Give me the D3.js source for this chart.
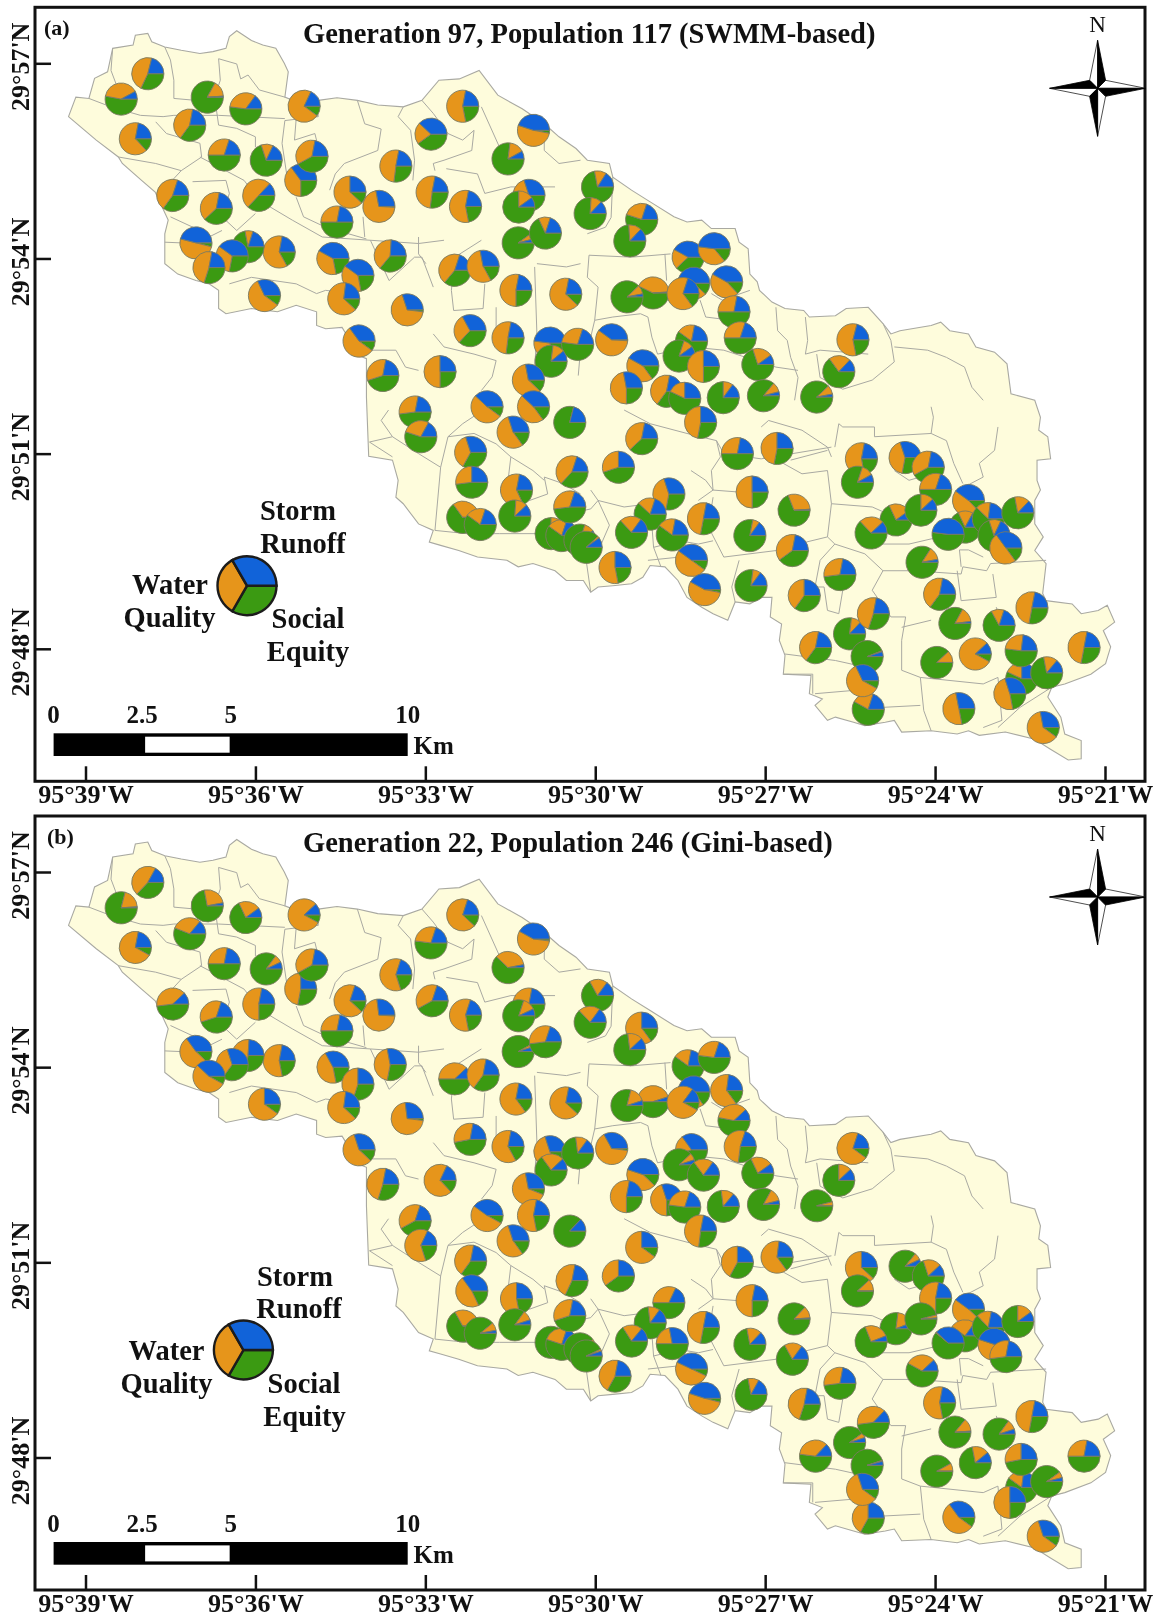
<!DOCTYPE html>
<html>
<head>
<meta charset="utf-8">
<script src="https://d3js.org/d3.v7.min.js"></script>
<style>
body { margin: 0; background: #fff; }
svg { display: block; filter: blur(0.45px); }
text { font-family: "Liberation Serif", serif; font-weight: bold; fill: #111; }
</style>
</head>
<body>
<svg id="drawing_region"></svg>
<script>
// tick labels are minutes past 95 deg W and 29 deg N
const lonTicks = [39, 36, 33, 30, 27, 24, 21];
const latTicks = [57, 54, 51, 48];
const scaleStops = [0, 2.5, 5, 10];
const legendShares = [1, 1, 1];
const sliceColors = ['#3b9a12', '#e6951b', '#1163d9']; // social equity, water quality, storm runoff

// watershed outline, [lon, lat] in minutes
const basinOutline = [
[39.30,56.18],[39.17,56.48],[38.94,56.46],[38.84,56.77],[38.61,56.87],[38.52,57.23],[38.16,57.28],[38.12,57.43],[37.90,57.46],[37.83,57.33],
[37.60,57.25],[37.31,57.20],[36.98,57.15],[36.75,57.18],[36.52,57.23],[36.46,57.41],[36.33,57.50],[36.07,57.35],[35.87,57.28],[35.64,57.23],
[35.49,57.00],[35.42,56.87],[35.48,56.48],[35.28,56.41],[34.89,56.43],[34.56,56.47],[34.20,56.43],[33.84,56.36],[33.39,56.33],[33.06,56.43],
[32.76,56.74],[32.40,56.76],[32.05,56.89],[31.72,56.51],[31.29,56.30],[30.90,56.07],[30.64,55.87],[30.34,55.69],[30.14,55.51],[29.75,55.46],
[29.69,55.25],[29.36,55.05],[29.03,54.87],[28.61,54.64],[28.38,54.56],[28.12,54.59],[27.95,54.46],[27.53,54.46],[27.46,54.25],[27.30,54.15],
[27.27,53.76],[27.14,53.64],[27.10,53.51],[26.88,53.33],[26.65,53.23],[26.32,53.20],[26.22,53.10],[25.76,53.12],[25.57,53.23],[25.18,53.25],
[24.92,53.00],[24.78,52.84],[24.62,52.89],[24.07,52.97],[23.90,53.02],[23.74,52.89],[23.41,52.84],[23.28,52.64],[22.95,52.56],[22.73,52.38],
[22.66,51.92],[22.24,51.82],[22.14,51.56],[22.17,51.36],[22.01,51.26],[21.96,50.92],[22.20,50.90],[22.20,50.59],[22.14,50.44],[22.24,50.28],
[22.24,49.92],[22.09,49.72],[22.24,49.51],[22.04,49.31],[22.10,48.85],[22.04,48.74],[21.58,48.69],[21.42,48.54],[21.12,48.59],[20.96,48.67],
[20.83,48.41],[21.03,48.28],[20.90,48.03],[20.99,47.77],[21.25,47.61],[21.71,47.46],[21.94,47.41],[22.01,47.26],[21.78,46.95],[21.71,46.69],
[21.42,46.59],[21.42,46.31],[21.65,46.29],[21.97,46.46],[22.24,46.61],[22.76,46.72],[23.22,46.67],[23.41,46.74],[23.61,46.69],[24.07,46.74],
[24.59,46.72],[24.72,46.90],[24.88,46.87],[25.24,46.82],[25.44,46.87],[25.76,46.95],[25.90,46.90],[26.12,47.13],[25.99,47.23],[26.22,47.31],
[26.19,47.59],[26.68,47.61],[26.65,47.90],[26.75,48.13],[26.71,48.38],[26.91,48.49],[26.88,48.79],[27.07,48.79],[27.27,48.69],[27.53,48.72],
[27.66,48.44],[27.92,48.54],[28.12,48.64],[28.38,48.79],[28.54,49.05],[28.77,49.26],[29.03,49.28],[29.16,49.10],[29.36,49.00],[29.69,48.97],
[29.95,48.95],[30.08,48.87],[30.21,49.05],[30.51,49.05],[30.71,49.20],[31.10,49.31],[31.36,49.26],[31.56,49.36],[32.08,49.41],[32.41,49.51],
[32.73,49.59],[32.93,49.64],[32.86,49.82],[33.12,49.92],[33.39,50.23],[33.52,50.33],[33.48,50.59],[33.58,50.90],[34.00,50.96],[34.04,51.87],
[34.04,52.23],[34.04,52.46],[34.24,52.53],[34.40,52.84],[34.47,52.94],[34.76,52.92],[34.92,52.97],[34.92,53.18],[35.28,53.28],[35.61,53.18],
[36.07,53.23],[36.52,53.15],[36.65,53.23],[36.65,53.51],[36.82,53.61],[37.05,53.66],[37.37,53.76],[37.60,53.92],[37.60,54.38],[37.54,54.59],
[37.77,55.02],[38.01,55.20],[38.35,55.46],[38.42,55.56],[38.81,55.82]
];

// sub-basin divides
const subBasinLines = [
[[38.52,57.23],[38.55,56.89],[38.42,56.59],[38.55,56.33]],
[[38.94,56.46],[38.55,56.33],[38.03,56.20],[37.63,56.18],[37.44,56.20],[36.65,56.20],[35.48,56.15]],
[[37.60,57.25],[37.50,57.05],[37.44,56.74],[37.44,56.46],[37.05,56.43]],
[[36.65,57.07],[36.33,56.99],[36.26,56.76],[36.13,56.82],[35.93,56.59],[35.48,56.48]],
[[36.65,57.07],[36.62,56.74],[36.72,56.48],[36.65,56.05],[36.33,56.00],[36.00,55.87],[36.00,55.71]],
[[37.76,56.10],[37.57,55.92],[36.98,55.77],[36.95,55.56],[37.31,55.35],[37.63,55.05]],
[[38.42,55.56],[37.76,55.46],[37.31,55.35]],
[[35.48,56.12],[35.53,55.77],[35.44,55.25]],
[[35.28,56.15],[35.31,55.82],[34.95,55.92],[34.89,55.71]],
[[35.48,56.12],[34.89,56.18],[34.92,56.38]],
[[34.20,56.43],[34.07,56.07],[33.78,55.99],[33.84,55.66],[34.43,55.46],[34.59,55.30],[34.69,55.05]],
[[33.39,56.33],[33.48,56.18],[33.26,55.97],[33.19,55.51],[33.22,55.20]],
[[32.60,55.92],[32.34,55.82],[32.14,55.97],[32.18,55.66],[32.67,55.51],[32.86,55.46],[32.83,55.35]],
[[33.06,56.43],[32.86,56.23],[32.60,55.92]],
[[32.01,56.33],[31.69,55.71],[31.43,55.30]],
[[30.90,56.07],[30.90,55.66],[30.64,55.46],[30.26,55.51]],
[[32.63,55.38],[32.08,55.30],[31.95,55.00],[31.49,55.10],[30.71,55.10]],
[[36.98,55.56],[36.20,55.20],[35.93,54.89],[35.35,54.59],[34.82,54.33],[33.97,54.28],[33.12,54.23],[32.67,54.28]],
[[37.11,55.18],[36.52,55.20],[36.46,55.00],[36.59,54.64],[36.33,54.43],[36.00,54.69]],
[[35.28,54.94],[35.15,54.64],[34.76,54.48],[34.04,54.30]],
[[34.10,54.64],[34.07,54.33]],
[[37.60,54.25],[37.05,54.23],[36.59,54.43]],
[[37.50,54.64],[36.98,54.43]],
[[36.46,53.61],[36.07,53.71],[35.28,53.61],[34.92,53.46],[34.76,53.51],[34.47,53.48]],
[[33.97,54.28],[33.64,53.66],[33.19,54.02],[33.06,54.02],[32.86,53.56]],
[[33.12,54.33],[33.12,54.07],[32.99,53.92]],
[[32.54,53.51],[32.50,53.20],[31.98,53.23],[31.95,53.61]],
[[32.54,53.51],[32.48,54.02],[32.01,54.28]],
[[31.07,53.87],[31.03,52.84],[31.07,52.33]],
[[31.75,53.25],[31.75,52.79],[31.36,52.64]],
[[34.04,52.59],[33.52,52.59],[33.35,52.33],[33.12,52.28]],
[[32.86,52.84],[32.67,52.64],[32.14,52.53],[31.75,52.43],[31.82,52.18],[32.01,51.97]],
[[31.03,53.92],[30.51,53.87],[30.26,53.92]],
[[30.11,54.05],[29.36,54.02],[28.67,54.07]],
[[30.11,54.05],[30.14,53.71],[29.95,53.56],[30.01,53.05],[30.08,52.79]],
[[29.07,53.10],[29.00,52.79],[28.90,52.53]],
[[28.77,54.07],[28.74,53.66]],
[[28.15,53.36],[28.05,53.10],[27.59,53.05],[27.27,52.84]],
[[27.95,53.46],[27.76,53.36],[27.27,53.51]],
[[26.81,53.25],[26.78,52.89],[26.61,52.74],[26.55,52.48],[26.42,52.17],[26.48,51.82]],
[[26.29,53.10],[26.25,52.74],[26.29,52.53],[26.03,52.59],[25.18,52.53]],
[[26.09,52.53],[26.03,52.17],[25.63,51.99],[25.11,52.13],[24.72,52.41],[24.78,52.74],[24.92,53.00]],
[[24.72,52.64],[24.13,52.59],[23.80,52.48],[23.48,52.33],[23.35,52.02],[23.15,51.82]],
[[28.31,52.64],[27.73,52.59],[26.81,52.33],[26.42,52.28]],
[[27.86,51.20],[27.79,50.95],[27.95,50.74],[27.92,50.44],[27.47,50.41]],
[[28.31,50.74],[28.05,50.59],[27.92,50.44],[28.18,50.28]],
[[27.07,51.41],[26.94,51.51],[26.35,51.36],[25.90,51.10],[25.83,50.95]],
[[26.55,50.90],[25.90,51.05]],
[[26.68,50.85],[26.35,50.69],[25.90,50.74],[25.83,50.23],[25.90,49.72],[25.77,49.61],[26.03,49.36]],
[[25.83,50.23],[25.11,50.18],[24.85,50.08]],
[[25.77,49.61],[25.24,49.46],[24.92,49.20],[25.11,48.90],[24.78,48.49],[24.52,48.49]],
[[25.24,49.61],[24.46,49.61],[23.67,49.77]],
[[24.92,49.20],[24.39,49.20],[23.54,49.15],[23.51,49.26],[23.09,49.20],[23.02,49.31],[22.04,49.36]],
[[23.61,49.20],[23.54,48.74],[22.92,48.79],[22.98,49.15]],
[[24.52,48.49],[24.59,48.13],[24.59,47.67],[24.26,47.56],[23.15,47.46],[22.89,47.56]],
[[24.26,47.56],[24.20,47.05],[24.07,46.74]],
[[24.92,47.10],[24.26,47.13]],
[[26.12,47.31],[25.44,47.36],[24.92,47.10]],
[[26.16,47.61],[26.16,47.31]],
[[26.65,47.92],[25.76,47.82],[25.24,47.72]],
[[25.96,48.95],[25.90,48.59],[25.70,48.54],[25.63,48.90]],
[[22.89,47.56],[22.82,46.90],[23.15,46.79]],
[[21.94,47.41],[22.50,47.10],[22.89,46.79]],
[[24.07,51.31],[23.80,51.20],[23.67,50.85],[23.51,50.54]],
[[22.89,51.41],[22.95,51.05],[23.22,50.85],[23.15,50.64],[23.48,50.49]],
[[25.63,51.41],[25.07,51.41],[25.07,51.26],[24.07,51.31],[24.03,51.56],[24.07,51.72]],
[[25.77,51.10],[25.70,51.46],[25.63,51.41]],
[[24.72,50.74],[24.46,50.59],[24.07,50.69],[23.80,50.44]],
[[29.49,51.67],[29.03,51.46],[28.38,51.31],[27.86,51.20],[27.73,51.00],[27.07,50.92],[25.83,51.10]],
[[29.95,50.28],[29.49,50.18],[29.03,50.23],[28.97,49.56],[28.84,49.26]],
[[30.21,49.66],[30.08,48.87]],
[[29.07,49.36],[28.51,49.41]],
[[27.46,49.36],[27.59,48.95],[27.53,48.72]],
[[27.92,50.33],[28.00,49.87],[27.73,49.41],[26.81,49.51],[26.42,49.61],[25.90,49.72]],
[[33.98,51.18],[33.58,51.26],[33.78,51.51],[33.65,51.67]],
[[33.99,51.18],[33.58,50.95]],
[[32.73,50.79],[32.60,51.26],[32.14,51.31],[31.75,51.15],[31.49,50.95],[31.56,50.44]],
[[32.73,50.79],[32.83,49.82],[32.27,49.77],[31.69,49.77],[31.03,49.77]],
[[30.84,50.38],[30.90,50.64],[30.57,50.54],[30.26,50.38]],
[[31.49,50.95],[31.10,50.74],[30.90,50.59]],
[[33.58,51.26],[33.12,51.00],[32.73,50.79]],
[[32.08,51.61],[32.34,51.46],[32.60,51.26]],
[[31.56,50.44],[31.16,50.28],[30.84,50.38]],
[[23.54,49.26],[23.57,49.52],[23.41,49.52],[23.15,49.41]],
[[24.59,48.33],[24.07,48.44]],
[[22.92,48.64],[22.76,48.23],[22.63,48.08]],
[[26.68,47.61],[26.16,47.61]],
[[26.03,49.36],[26.12,48.95],[25.96,48.95]],
[[28.97,49.56],[28.51,49.66],[28.18,49.61],[27.92,49.66]],
[[30.08,50.44],[29.95,50.28],[29.75,49.90],[29.95,49.50]],
[[30.34,50.10],[30.08,50.15],[29.95,50.28]],
[[29.69,53.10],[29.20,53.15],[29.07,53.10]],
[[30.01,53.05],[29.69,53.10]],
[[28.90,52.53],[28.31,52.64]],
[[30.08,52.79],[30.26,52.60],[30.30,52.20]],
[[29.69,55.25],[29.72,54.63],[29.82,54.48],[30.14,54.38]]
];

// pie centres in minutes, listed back to front
const pieLon = [
37.90,38.37,36.85,36.17,35.14,38.12,37.16,36.55,35.81,35.20,35.00,37.46,36.69,35.94,34.33,33.82,34.56,33.52,32.88,32.29,
32.90,32.34,31.09,31.54,31.17,31.35,31.36,30.88,32.48,31.98,31.40,30.52,32.21,31.54,30.80,30.31,30.78,29.71,28.98,29.44,
28.36,27.90,28.26,28.45,27.68,27.55,27.44,27.13,27.03,26.09,25.70,25.45,32.74,31.18,29.16,29.45,31.91,31.09,31.45,30.45,
28.30,28.52,28.09,28.74,28.42,27.74,28.14,29.18,29.59,32.20,32.18,30.41,27.49,26.79,31.39,28.70,27.23,33.18,33.08,32.34,
32.03,31.42,30.78,30.59,30.27,30.16,30.45,29.03,29.36,28.64,28.09,27.27,26.49,26.52,29.65,28.30,28.07,27.25,26.31,25.68,
26.11,25.51,25.09,25.20,25.18,25.28,24.23,23.92,23.65,22.87,22.29,21.37,23.97,23.29,22.47,22.48,22.03,22.68,23.58,22.09,
25.30,25.37,24.53,24.12,23.99,24.69,25.13,24.25,23.41,23.47,23.06,22.96,22.75,23.77,22.54,29.96,30.09,29.18,29.39,33.32,
33.62,34.63,34.19,34.44,35.58,36.13,36.41,37.05,36.82,35.84,34.17,33.75
];
const pieLat = [
56.84,56.45,56.48,56.30,56.34,55.84,56.05,55.59,55.51,55.20,55.57,54.97,54.77,54.97,55.02,54.80,54.56,55.42,55.02,54.80,
55.91,56.34,55.97,55.53,54.97,54.79,54.24,54.39,53.82,53.88,53.51,53.45,52.89,52.78,52.70,52.68,52.42,52.75,53.47,53.41,
54.02,54.15,53.62,53.46,53.64,53.18,52.78,52.37,51.89,51.87,52.26,52.75,52.26,52.13,52.35,52.01,51.72,51.72,51.33,51.48,
52.73,52.50,52.34,51.96,51.85,51.86,51.48,51.23,50.79,51.02,50.56,50.72,51.00,51.08,50.44,50.38,50.41,51.64,51.26,50.02,
49.91,50.04,49.77,49.74,49.67,49.56,50.18,50.07,49.79,49.75,50.00,49.74,50.13,49.51,49.25,49.36,48.91,48.97,48.82,49.14,
48.02,48.23,48.54,47.88,47.07,47.51,49.33,48.84,48.39,48.36,48.63,48.02,47.79,47.92,47.54,47.97,47.63,47.31,47.08,46.79,
50.92,50.56,50.94,50.79,50.45,49.98,49.78,50.13,50.28,49.87,50.00,49.74,49.55,49.76,50.09,55.10,54.69,54.60,54.27,53.21,
54.04,54.00,53.74,53.38,54.10,54.18,54.04,54.24,53.86,53.43,52.73,52.20
];

// shares in percent: [social equity, water quality, storm runoff]
const sharesA = [
[32,47,21],[53,39,8],[83,16,1],[52,33,15],[10,72,18],[13,65,22],[35,43,22],[50,30,20],[70,12,18],[25,40,35],[42,36,22],[35,45,20],[38,40,22],[37,50,13],[12,63,25],[1,71,28],[50,28,22],[27,51,22],[27,51,22],[22,56,22],
[40,22,38],[22,56,22],[3,52,45],[77,15,8],[20,50,30],[75,15,10],[90,6,4],[68,12,20],[36,44,20],[17,55,28],[25,53,22],[12,66,22],[37,30,33],[27,51,22],[22,30,48],[52,28,20],[77,12,11],[1,59,40],[57,42,1],[88,9,3],
[38,20,42],[14,38,48],[12,43,45],[15,65,20],[13,45,42],[50,28,22],[50,30,20],[70,20,10],[86,10,4],[88,9,3],[65,22,13],[22,57,21],[25,50,25],[12,60,28],[15,43,42],[25,47,28],[10,52,38],[15,47,38],[15,55,30],[79,0,21],
[60,18,22],[80,10,10],[25,50,25],[35,43,22],[57,18,25],[75,10,15],[28,47,25],[38,40,22],[45,30,25],[33,37,30],[48,27,25],[37,43,20],[50,28,22],[28,47,25],[18,60,22],[28,42,30],[25,50,25],[48,30,22],[55,28,17],[65,35,0],
[60,20,20],[76,12,12],[75,15,10],[60,20,20],[80,10,10],[88,2,10],[48,32,20],[62,18,20],[63,22,15],[60,18,22],[28,50,22],[78,7,15],[69,30,1],[40,38,22],[22,53,25],[10,50,40],[3,55,42],[77,8,15],[35,40,25],[48,30,22],
[35,43,22],[77,10,13],[30,48,22],[94,1,5],[58,22,20],[8,60,32],[84,13,3],[35,43,22],[83,15,2],[67,13,20],[28,50,22],[28,50,22],[88,12,0],[8,80,12],[57,18,25],[52,25,23],[72,14,14],[22,48,30],[22,50,28],[10,62,28],
[22,56,22],[80,12,8],[28,42,30],[42,36,22],[50,30,20],[68,22,10],[63,25,12],[75,13,12],[13,47,40],[68,15,17],[62,15,23],[70,12,18],[15,50,35],[52,0,48],[72,15,13],[72,12,16],[76,11,13],[55,25,20],[74,13,13],[2,68,30],
[36,40,24],[22,36,42],[22,38,40],[12,65,23],[17,61,22],[72,8,20],[28,32,40],[4,50,46],[30,48,22],[10,58,32],[10,55,35],[45,33,22]
];
const sharesB = [
[37,46,17],[79,20,1],[72,25,3],[68,22,10],[8,80,12],[8,70,22],[56,30,14],[50,28,22],[85,8,7],[28,47,25],[42,36,22],[48,40,12],[45,35,20],[25,53,22],[12,68,20],[1,72,27],[50,28,22],[20,60,20],[42,38,20],[22,58,20],
[52,28,20],[12,68,20],[2,56,42],[62,35,3],[20,58,22],[80,13,7],[92,3,5],[48,32,20],[50,38,12],[35,43,22],[15,63,22],[12,66,22],[47,31,22],[17,61,22],[20,50,30],[73,12,15],[65,23,12],[2,65,33],[50,45,5],[79,16,5],
[60,18,22],[52,28,20],[15,40,45],[8,77,15],[15,62,23],[53,35,12],[27,53,20],[68,22,10],[83,13,4],[96,4,0],[75,13,12],[10,70,20],[13,69,18],[6,66,28],[12,43,45],[25,53,22],[8,52,40],[22,56,22],[15,55,30],[87,0,13],
[45,20,35],[88,7,5],[65,20,15],[25,45,30],[52,28,20],[73,13,14],[27,51,22],[10,65,25],[40,35,25],[35,43,22],[18,47,35],[32,46,22],[33,42,25],[15,62,23],[22,53,25],[50,32,18],[25,53,22],[42,38,20],[20,62,18],[67,33,0],
[89,8,3],[85,10,5],[85,10,5],[55,25,20],[90,5,5],[93,2,5],[45,33,22],[73,12,15],[66,20,14],[50,22,28],[28,50,22],[72,15,13],[87,12,1],[67,18,15],[33,45,22],[7,50,43],[4,51,45],[72,11,17],[30,48,22],[48,30,22],
[52,35,13],[90,5,5],[48,39,13],[95,1,4],[33,42,25],[10,60,30],[58,30,12],[22,56,22],[86,13,1],[85,10,5],[28,50,22],[50,28,22],[92,8,0],[72,17,11],[60,17,23],[47,28,25],[90,6,4],[25,50,25],[10,55,35],[10,60,30],
[12,63,25],[88,12,0],[86,7,7],[70,18,12],[25,53,22],[77,17,6],[69,25,6],[96,3,1],[12,48,40],[60,25,15],[63,15,22],[10,45,45],[48,30,22],[61,1,38],[75,15,10],[67,18,15],[63,22,15],[15,60,25],[73,15,12],[2,71,27],
[28,44,28],[22,45,33],[30,45,25],[12,65,23],[22,56,22],[28,48,24],[35,35,30],[12,53,35],[8,54,38],[10,65,25],[12,58,30],[30,48,22]
];

class PieMap {

    constructor( config, shares ) {
        this.config = config;
        this.shares = shares;
        this.init();
    }

    init() {
        let self = this;
        const c = self.config;

        self.svg = d3.select('#drawing_region')
            .attr('width', 1156)
            .attr('height', 1617);

        self.chart = self.svg.append('g');

        self.xscale = d3.scaleLinear()
            .domain( [39, 21] )
            .range( [85.5, 1105] );

        self.yscale = d3.scaleLinear()
            .domain( [57, 48] )
            .range( [c.top + 56, c.top + 641.5] );

        self.kmscale = d3.scaleLinear()
            .domain( [0, 10] )
            .range( [53.6, 407.7] );

        self.pie = d3.pie()
            .sort(null)
            .startAngle( Math.PI / 2 )
            .endAngle( Math.PI * 2.5 );

        self.line = d3.line()
            .x( d => self.xscale( d[0] ) )
            .y( d => self.yscale( d[1] ) );
    }

    render() {
        this.renderBasin();
        this.renderPies();
        this.renderFrame();
        this.renderLegend();
        this.renderScaleBar();
        this.renderCompass();
    }

    renderBasin() {
        let self = this;

        self.chart.append('path')
            .attr('d', self.line( basinOutline ) + 'Z')
            .attr('fill', '#fefcdc')
            .attr('stroke', '#a9a9a2')
            .attr('stroke-width', 1.1);

        self.chart.selectAll('.divide')
            .data( subBasinLines )
            .join('path')
            .attr('class', 'divide')
            .attr('d', self.line)
            .attr('fill', 'none')
            .attr('stroke', '#a9a9a2')
            .attr('stroke-width', 1);
    }

    renderPies() {
        let self = this;
        const arc = d3.arc().innerRadius(0).outerRadius(16.1);

        const pies = self.chart.selectAll('.site')
            .data( self.shares )
            .join('g')
            .attr('class', 'site')
            .attr('transform', (d,i) => `translate(${self.xscale( pieLon[i] )}, ${self.yscale( pieLat[i] )})`);

        pies.selectAll('path')
            .data( d => self.pie(d) )
            .join('path')
            .attr('d', arc)
            .attr('fill', (d,i) => sliceColors[i])
            .attr('stroke', '#7b7b62')
            .attr('stroke-width', 0.9);
    }

    renderFrame() {
        let self = this;
        const c = self.config;

        self.chart.append('rect')
            .attr('x', 35)
            .attr('y', c.top)
            .attr('width', 1110)
            .attr('height', 774)
            .attr('fill', 'none')
            .attr('stroke', '#111')
            .attr('stroke-width', 3);

        const xaxis = d3.axisBottom( self.xscale )
            .tickValues( lonTicks )
            .tickSizeInner(-15)
            .tickSizeOuter(0)
            .tickFormat( d => `95°${d}'W` );

        const xaxis_group = self.chart.append('g')
            .attr('transform', `translate(0, ${c.top + 774})`)
            .call( xaxis );
        xaxis_group.select('.domain').remove();
        xaxis_group.selectAll('line').attr('stroke', '#111').attr('stroke-width', 2.5);
        xaxis_group.selectAll('text')
            .attr('y', 22)
            .attr('dy', 0)
            .attr('font-size', 26);

        const yaxis = d3.axisLeft( self.yscale )
            .tickValues( latTicks )
            .tickSizeInner(-16)
            .tickSizeOuter(0)
            .tickFormat( d => `29°${d}'N` );

        const yaxis_group = self.chart.append('g')
            .attr('transform', 'translate(35, 0)')
            .call( yaxis );
        yaxis_group.select('.domain').remove();
        yaxis_group.selectAll('line').attr('stroke', '#111').attr('stroke-width', 2.5);
        yaxis_group.selectAll('text')
            .attr('x', 0)
            .attr('y', 0)
            .attr('dy', 0)
            .attr('transform', 'translate(-6, 3) rotate(-90)')
            .attr('text-anchor', 'middle')
            .attr('font-size', 26);

        self.chart.append('text')
            .attr('x', c.tagX)
            .attr('y', c.top + 28)
            .attr('font-size', 22)
            .text( c.tag );

        self.chart.append('text')
            .attr('x', 303)
            .attr('y', c.top + 36)
            .attr('font-size', 28.5)
            .text( c.title );
    }

    renderLegend() {
        let self = this;
        const c = self.config;
        const arc = d3.arc().innerRadius(0).outerRadius(29.5);

        const key = self.chart.append('g')
            .attr('transform', `translate(${c.keyX}, ${c.keyY})`);

        key.selectAll('path')
            .data( self.pie( legendShares ) )
            .join('path')
            .attr('d', arc)
            .attr('fill', (d,i) => sliceColors[i])
            .attr('stroke', '#1c1c1c')
            .attr('stroke-width', 2.4);

        self.chart.selectAll('.key-label-' + c.tag[1])
            .data( c.keyLabels )
            .join('text')
            .attr('class', 'key-label-' + c.tag[1])
            .attr('x', d => d.x)
            .attr('y', d => d.y)
            .attr('text-anchor', 'middle')
            .attr('font-size', 28.5)
            .text( d => d.text );
    }

    renderScaleBar() {
        let self = this;
        const c = self.config;
        const bar = c.top + 726;

        self.chart.append('rect')
            .attr('x', self.kmscale( scaleStops[0] ))
            .attr('y', bar)
            .attr('width', self.kmscale( scaleStops[3] ) - self.kmscale( scaleStops[0] ))
            .attr('height', 22.7)
            .attr('fill', '#000');

        // middle segment is white with the black bar showing round it
        self.chart.append('rect')
            .attr('x', self.kmscale( scaleStops[1] ) + 3)
            .attr('y', bar + 3.4)
            .attr('width', self.kmscale( scaleStops[2] ) - self.kmscale( scaleStops[1] ) - 4)
            .attr('height', 16)
            .attr('fill', '#fff');

        self.chart.selectAll('.km-label-' + c.tag[1])
            .data( scaleStops )
            .join('text')
            .attr('class', 'km-label-' + c.tag[1])
            .attr('x', d => self.kmscale(d))
            .attr('y', bar - 10)
            .attr('text-anchor', 'middle')
            .attr('font-size', 25)
            .text( d => d );

        self.chart.append('text')
            .attr('x', 413.5)
            .attr('y', bar + 21)
            .attr('font-size', 25)
            .text('Km');
    }

    renderCompass() {
        let self = this;
        const c = self.config;
        const tip = 48, waist = 8;

        const rose = self.chart.append('g')
            .attr('transform', `translate(1097.6, ${c.top + 81})`);

        // each arm is a black half and a white half
        const blackHalves = [
            [[0,0],[0,-tip],[waist,-waist]],
            [[0,0],[-tip,0],[-waist,-waist]],
            [[0,0],[0,tip],[-waist,waist]],
            [[0,0],[tip,0],[waist,waist]]
        ];
        const whiteHalves = [
            [[0,0],[0,-tip],[-waist,-waist]],
            [[0,0],[-tip,0],[-waist,waist]],
            [[0,0],[0,tip],[waist,waist]],
            [[0,0],[tip,0],[waist,-waist]]
        ];

        rose.selectAll('.white')
            .data( whiteHalves )
            .join('polygon')
            .attr('class', 'white')
            .attr('points', d => d.join(' '))
            .attr('fill', '#fff')
            .attr('stroke', '#222')
            .attr('stroke-width', 0.8);

        rose.selectAll('.black')
            .data( blackHalves )
            .join('polygon')
            .attr('class', 'black')
            .attr('points', d => d.join(' '))
            .attr('fill', '#000')
            .attr('stroke', '#000')
            .attr('stroke-width', 0.8);

        self.chart.append('text')
            .attr('x', 1097.6)
            .attr('y', c.top + 25)
            .attr('text-anchor', 'middle')
            .attr('font-size', 23)
            .style('font-weight', 'normal')
            .text('N');
    }
}

const panelA = new PieMap({
    top: 7.3,
    tag: '(a)',
    tagX: 44,
    title: 'Generation 97, Population 117 (SWMM-based)',
    keyX: 247,
    keyY: 585.7,
    keyLabels: [
        {text: 'Storm', x: 298, y: 520},
        {text: 'Runoff', x: 303, y: 552.7},
        {text: 'Water', x: 170, y: 594.3},
        {text: 'Quality', x: 169.5, y: 626.7},
        {text: 'Social', x: 308, y: 628},
        {text: 'Equity', x: 308, y: 660.7}
    ]
}, sharesA);
panelA.render();

const panelB = new PieMap({
    top: 816,
    tag: '(b)',
    tagX: 47,
    title: 'Generation 22, Population 246 (Gini-based)',
    keyX: 243.4,
    keyY: 1350,
    keyLabels: [
        {text: 'Storm', x: 295, y: 1286},
        {text: 'Runoff', x: 299, y: 1318.3},
        {text: 'Water', x: 166.5, y: 1360},
        {text: 'Quality', x: 166.5, y: 1392.7},
        {text: 'Social', x: 304, y: 1393.3},
        {text: 'Equity', x: 304.5, y: 1426}
    ]
}, sharesB);
panelB.render();
</script>
</body>
</html>
